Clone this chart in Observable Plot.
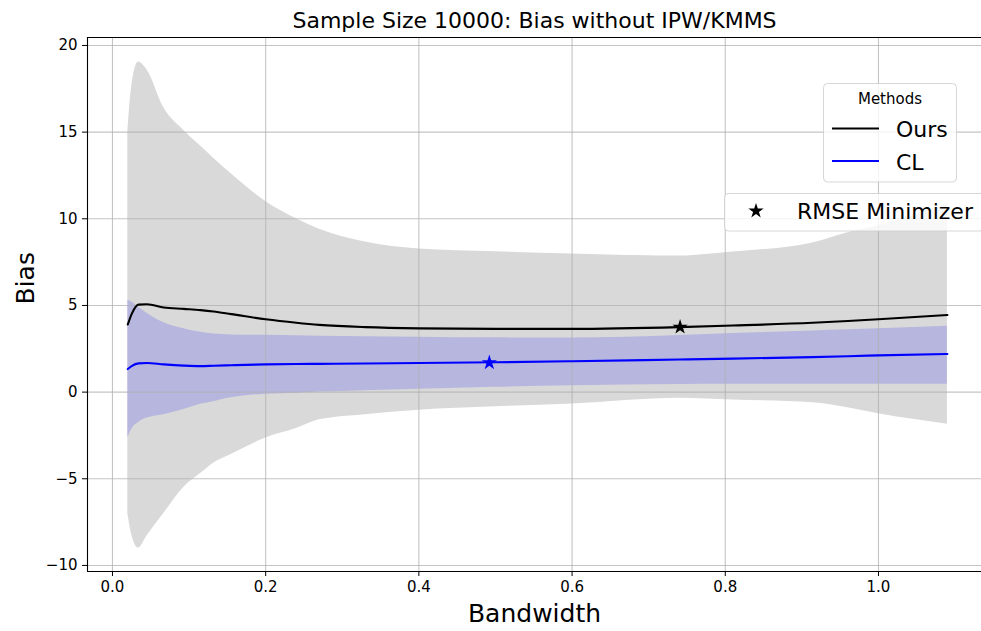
<!DOCTYPE html>
<html>
<head>
<meta charset="utf-8">
<script src="https://cdn.jsdelivr.net/npm/d3@7"></script>
<script src="https://cdn.jsdelivr.net/npm/@observablehq/plot@0.6"></script>
<style>
  html, body { margin: 0; padding: 0; background: white; }
  #chart { width: 981px; height: 631px; }
</style>
</head>
<body>
<div id="chart"></div>
<script>
// ---- data ----
const bandwidth = [0.02, 0.025, 0.034, 0.045, 0.067, 0.093, 0.115, 0.132, 0.155, 0.2, 0.24, 0.27, 0.33, 0.4, 0.5, 0.6, 0.74, 0.81, 0.914, 0.96, 1.0, 1.09];
const oursUpper = [15.0, 17.6, 19.05, 18.6, 16.4, 15.1, 14.2, 13.5, 12.6, 11.0, 10.0, 9.4, 8.66, 8.26, 8.1, 7.97, 7.85, 8.08, 8.6, 9.2, 9.6, 10.9];
const oursLower = [-7.0, -8.2, -9.0, -8.3, -7.0, -5.5, -4.7, -4.1, -3.6, -2.65, -2.1, -1.6, -1.3, -1.04, -0.85, -0.68, -0.35, -0.45, -0.62, -0.9, -1.25, -1.85];
const oursMean  = [3.9, 4.5, 5.05, 5.07, 4.88, 4.8, 4.73, 4.65, 4.5, 4.2, 4.0, 3.88, 3.75, 3.68, 3.65, 3.65, 3.75, 3.84, 4.0, 4.1, 4.2, 4.45];
const clUpper   = [5.3, 5.2, 4.9, 4.55, 4.0, 3.65, 3.45, 3.35, 3.3, 3.28, 3.25, 3.23, 3.2, 3.17, 3.13, 3.12, 3.27, 3.38, 3.53, 3.6, 3.66, 3.8];
const clLower   = [-2.65, -2.15, -1.75, -1.5, -1.3, -1.0, -0.7, -0.55, -0.33, -0.12, -0.06, 0.0, 0.08, 0.17, 0.28, 0.37, 0.44, 0.45, 0.46, 0.46, 0.46, 0.46];
const clMean    = [1.33, 1.5, 1.66, 1.68, 1.6, 1.53, 1.5, 1.52, 1.55, 1.6, 1.62, 1.63, 1.65, 1.68, 1.72, 1.78, 1.88, 1.93, 2.02, 2.07, 2.12, 2.2];
const minimizers = [
  {method: "Ours", b: 0.741, bias: 3.75},
  {method: "CL", b: 0.492, bias: 1.70}
];
const xTicks = [0.0, 0.2, 0.4, 0.6, 0.8, 1.0];
const yTicks = [-10, -5, 0, 5, 10, 15, 20];
const titleText = "Sample Size 10000: Bias without IPW/KMMS";
const xLabel = "Bandwidth";
const yLabel = "Bias";
const legendTitle = "Methods";
const legendMethods = ["Ours", "CL"];
const legendMarker = "RMSE Minimizer";

// ---- table ----
const rows = bandwidth.map((b, i) => ({
  b, oursUpper: oursUpper[i], oursLower: oursLower[i], oursMean: oursMean[i],
  clUpper: clUpper[i], clLower: clLower[i], clMean: clMean[i]
}));

const colors = {Ours: "#000000", CL: "#0000ff"};
const xDomain = [-0.0326, 1.1345];
const yDomain = [-10.35, 20.46];
const font = "'DejaVu Sans', sans-serif";

const chart = Plot.plot({
  width: 981,
  height: 631,
  marginLeft: 87,
  marginRight: 0,
  marginTop: 37,
  marginBottom: 60,
  style: {fontFamily: font, fontSize: "15px", background: "white", color: "black", overflow: "visible"},
  x: {domain: xDomain},
  y: {domain: yDomain},
  marks: [
    Plot.areaY(rows, {x: "b", y1: "oursLower", y2: "oursUpper", fill: "#d9d9d9", curve: "monotone-x"}),
    Plot.areaY(rows, {x: "b", y1: "clLower", y2: "clUpper", fill: "#0000ff", fillOpacity: 0.16, curve: "monotone-x"}),
    Plot.gridX(xTicks, {stroke: "#b0b0b0", strokeOpacity: 0.75, strokeWidth: 1.1}),
    Plot.gridY(yTicks, {stroke: "#b0b0b0", strokeOpacity: 0.75, strokeWidth: 1.1}),
    Plot.line(rows, {x: "b", y: "oursMean", stroke: colors.Ours, strokeWidth: 2.1, curve: "monotone-x"}),
    Plot.line(rows, {x: "b", y: "clMean", stroke: colors.CL, strokeWidth: 2.1, curve: "monotone-x"}),
    Plot.dot(minimizers, {x: "b", y: "bias", symbol: "star", r: 4.8, fill: d => colors[d.method], stroke: "none"}),
    Plot.ruleX([xDomain[0]], {stroke: "black", strokeWidth: 1.1}),
    Plot.ruleY([yDomain[0], yDomain[1]], {stroke: "black", strokeWidth: 1.1}),
    Plot.axisX(xTicks, {tickSize: 5, tickPadding: 5, tickFormat: d3.format(".1f"), label: null, fontSize: 15}),
    Plot.axisY(yTicks, {tickSize: 5, tickPadding: 5, tickFormat: d => d < 0 ? "\u2212" + Math.abs(d) : String(d), label: null, fontSize: 15}),
    Plot.text([titleText], {frameAnchor: "top", lineAnchor: "middle", dy: -17, fontSize: 22, fill: "black"}),
    Plot.text([xLabel], {frameAnchor: "bottom", lineAnchor: "middle", dy: 42, fontSize: 25, fill: "black"}),
    Plot.text([yLabel], {frameAnchor: "left", lineAnchor: "middle", dx: -62, rotate: -90, fontSize: 25, fill: "black"})
  ]
});

document.getElementById("chart").appendChild(chart);

// ---- legends ----
const svg = d3.select(chart);
const lg = svg.append("g").attr("font-family", font).attr("text-anchor", "start");
lg.append("rect").attr("x", 823.5).attr("y", 83.5).attr("width", 133).attr("height", 98.5).attr("rx", 4)
  .attr("fill", "white").attr("fill-opacity", 0.8).attr("stroke", "#cccccc").attr("stroke-opacity", 0.8);
lg.append("text").attr("x", 890).attr("y", 104).attr("text-anchor", "middle").attr("font-size", 15).text(legendTitle);
legendMethods.forEach((m, i) => {
  const yy = 128.5 + i * 32.5;
  lg.append("line").attr("x1", 832).attr("x2", 879).attr("y1", yy).attr("y2", yy)
    .attr("stroke", colors[m]).attr("stroke-width", 2.1);
  lg.append("text").attr("x", 896).attr("y", yy + 8.5).attr("text-anchor", "start").attr("font-size", 22).text(m);
});
const lg2 = svg.append("g").attr("font-family", font).attr("text-anchor", "start");
lg2.append("rect").attr("x", 724.5).attr("y", 193.5).attr("width", 270).attr("height", 37.5).attr("rx", 4)
  .attr("fill", "white").attr("fill-opacity", 0.8).attr("stroke", "#cccccc").attr("stroke-opacity", 0.8);
lg2.append("path").attr("transform", "translate(756,211)")
  .attr("d", d3.symbol(d3.symbolStar, Math.PI * 4.8 * 4.8)()).attr("fill", "black");
lg2.append("text").attr("x", 797).attr("y", 219).attr("text-anchor", "start").attr("font-size", 22).text(legendMarker);
</script>
</body>
</html>
